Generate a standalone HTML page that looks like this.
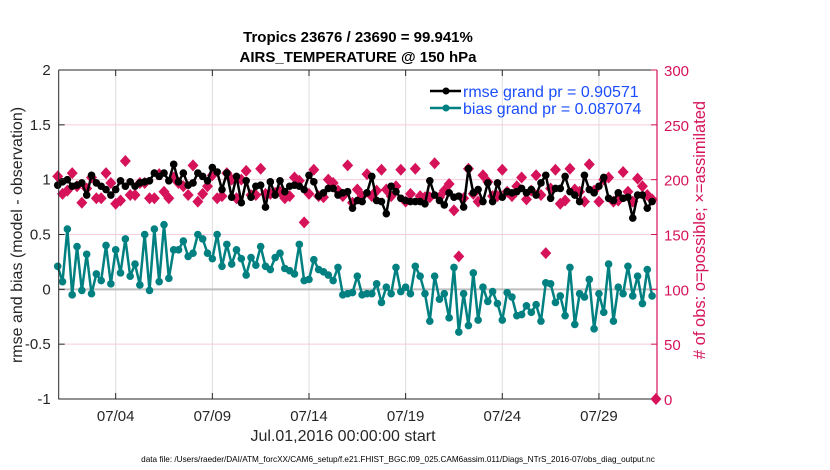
<!DOCTYPE html>
<html><head><meta charset="utf-8"><style>
body{margin:0;background:#fff;}
svg{display:block;font-family:"Liberation Sans",Arial,sans-serif;}
</style></head><body>
<svg id="chart" width="830" height="470" viewBox="0 0 830 470">
<rect x="0" y="0" width="830" height="470" fill="#fff"/>
<g id="grid"></g>
<g id="series"></g>
<g id="axes"></g>
</svg>
<script>
const rmseVals=[0.95,0.98,1.00,0.94,0.95,0.97,0.86,1.04,0.97,0.94,0.91,0.86,0.91,0.99,0.94,0.98,0.94,0.97,0.98,0.99,1.06,1.03,1.06,0.99,1.14,0.98,1.06,0.95,0.97,1.06,1.03,0.99,1.11,1.07,0.91,1.06,0.84,1.03,0.79,0.99,0.84,0.94,0.95,
0.75,0.98,0.86,0.99,0.89,0.94,0.95,0.94,0.91,1.04,0.98,0.85,0.88,0.92,0.92,0.86,0.88,0.89,0.74,0.81,0.80,0.88,1.03,0.81,0.80,0.69,0.94,0.89,0.83,0.81,0.80,0.80,0.80,0.78,0.99,0.86,0.81,0.77,0.88,0.84,0.85,
0.75,1.10,0.88,0.91,0.80,0.97,0.80,0.97,0.84,0.89,0.88,0.89,0.92,0.88,0.91,0.86,0.97,1.04,0.83,0.92,0.92,1.03,0.89,0.86,0.80,1.04,0.91,0.88,0.94,1.02,0.83,0.81,0.88,0.83,0.84,0.65,0.86,0.86,0.74,0.80];
const biasVals=[0.21,0.07,0.55,-0.05,0.39,-0.01,0.32,-0.04,0.14,0.08,0.40,0.05,0.36,0.15,0.46,0.12,0.23,0.04,0.50,-0.01,0.55,0.07,0.59,0.10,0.36,0.36,0.44,0.30,0.33,0.50,0.46,0.33,0.28,0.50,0.21,0.41,0.23,0.36,0.28,0.13,0.29,0.22,0.39,
0.21,0.18,0.29,0.33,0.19,0.17,0.14,0.41,0.08,0.09,0.27,0.18,0.16,0.13,0.08,0.20,-0.05,-0.04,-0.03,0.12,-0.05,-0.04,-0.04,0.05,-0.12,0.02,-0.04,0.20,-0.02,0.02,-0.04,0.21,0.12,-0.04,-0.29,0.12,-0.09,-0.04,-0.26,0.20,-0.39,
-0.04,-0.33,0.15,-0.28,0.02,-0.11,-0.02,-0.13,-0.28,-0.03,-0.07,-0.24,-0.23,-0.15,-0.21,-0.14,-0.29,0.06,0.05,-0.12,-0.06,-0.24,0.20,-0.32,-0.04,-0.07,0.09,-0.36,-0.04,-0.21,0.23,-0.29,0.02,-0.04,0.21,-0.06,0.12,-0.13,0.18,-0.06];
const obsVals=[203,187,190,206,194,179,192,202,183,183,206,197,178,181,217,186,186,197,197,183,183,205,189,183,202,197,194,186,213,180,187,194,204,183,185,206,200,183,200,208,186,186,210,
187,187,188,189,183,185,202,199,161,187,209,185,184,200,197,190,185,213,179,191,185,205,185,190,209,191,185,194,209,180,187,210,185,184,184,215,184,190,196,172,130,
183,210,187,180,204,198,185,185,209,189,185,194,202,182,190,204,186,133,192,209,178,181,210,191,189,180,214,190,180,200,202,180,181,207,189,180,201,194,186,182,0];
const leftTicks=[2,1.5,1,0.5,0,-0.5,-1];
const rightTicks=[300,250,200,150,100,50,0];
const dateTicks=[3,8,13,18,23,28];
const dateLabels=["07/04","07/09","07/14","07/19","07/24","07/29"];
const stepDays=0.25;

const L=58.7,R=657,T=70,B=399;
const xS=t=>57.7+19.33*t;
const yL=v=>B-(v+1)/3*(B-T);
const yR=n=>B-n/300*(B-T);
const NS="http://www.w3.org/2000/svg";
function mk(tag,attrs,parent,text){const e=document.createElementNS(NS,tag);for(const k in attrs)e.setAttribute(k,attrs[k]);if(text!==undefined)e.textContent=text;parent.appendChild(e);return e;}
const grid=document.getElementById('grid'),ser=document.getElementById('series'),ax=document.getElementById('axes');

dateTicks.forEach((d,i)=>{const g=mk('line',{x1:xS(d),x2:xS(d),y1:T,y2:B,stroke:'#dcdcdc','stroke-width':1},grid);

});
rightTicks.forEach(n=>{const g=mk('line',{x1:L,x2:R,y1:yR(n),y2:yR(n),stroke:'#f6cbdc','stroke-width':1},grid);

});
const z=mk('line',{x1:L,x2:R,y1:yL(0),y2:yL(0),stroke:'#bdbdbd','stroke-width':2},grid);



obsVals.forEach((n,i)=>{const t=(i===obsVals.length-1)?30.95:i*stepDays;const x=xS(t),y=yR(n);
const d=mk('path',{d:`M${x} ${y-6}L${x+5.5} ${y}L${x} ${y+6}L${x-5.5} ${y}Z`,fill:'#d6135a'},ser);

});

function line(vals,color,name){
 const pts=vals.map((v,i)=>[xS(i*stepDays),yL(v)]);
 const p=mk('polyline',{points:pts.map(p=>p.join(',')).join(' '),fill:'none',stroke:color,'stroke-width':2.5,'stroke-linejoin':'round'},ser);
 
 
 pts.forEach(q=>{const c=mk('circle',{cx:q[0],cy:q[1],r:3.8,fill:color},ser);
 
 });
}
line(biasVals,'#008080','bias');
line(rmseVals,'#000000','rmse');

const fr=mk('path',{d:`M${L} ${T}H${R}M${L} ${T}V${B}H${R}`,fill:'none',stroke:'#262626','stroke-width':1},ax);


const ra=mk('line',{x1:R,x2:R,y1:T,y2:B,stroke:'#d6135a','stroke-width':1.2},ax);



leftTicks.forEach(v=>{mk('line',{x1:L,x2:L+6,y1:yL(v),y2:yL(v),stroke:'#262626'},ax);
const t=mk('text',{x:L-8,y:yL(v)+5,'text-anchor':'end','font-size':15,fill:'#262626'},ax,String(v));

});
rightTicks.forEach(n=>{mk('line',{x1:R-6,x2:R,y1:yR(n),y2:yR(n),stroke:'#d6135a'},ax);
const t=mk('text',{x:R+7,y:yR(n)+6,'font-size':15,fill:'#d6135a'},ax,String(n));

});
dateTicks.forEach((d,i)=>{mk('line',{x1:xS(d),x2:xS(d),y1:B,y2:B-6,stroke:'#262626'},ax);mk('line',{x1:xS(d),x2:xS(d),y1:T,y2:T+6,stroke:'#262626'},ax);
const t=mk('text',{x:xS(d),y:B+22,'text-anchor':'middle','font-size':15,fill:'#262626'},ax,dateLabels[i]);

});
</script>
<svg width="830" height="470" style="position:absolute;left:0;top:0" font-family="Liberation Sans, Arial, sans-serif">
<text x="358" y="42" text-anchor="middle" font-size="15" font-weight="bold" fill="#000">Tropics 23676 / 23690 = 99.941%</text>
<text x="358" y="62" text-anchor="middle" font-size="15" font-weight="bold" fill="#000">AIRS_TEMPERATURE @ 150 hPa</text>
<text x="343" y="441" text-anchor="middle" font-size="16" fill="#262626">Jul.01,2016 00:00:00 start</text>
<text transform="translate(22,235) rotate(-90)" text-anchor="middle" font-size="16" fill="#262626">rmse and bias (model - observation)</text>
<text transform="translate(705,230) rotate(-90)" text-anchor="middle" font-size="16.5" fill="#d6135a"># of obs: o=possible; ×=assimilated</text>
<text x="398" y="462" text-anchor="middle" font-size="8.2" fill="#000">data file: /Users/raeder/DAI/ATM_forcXX/CAM6_setup/f.e21.FHIST_BGC.f09_025.CAM6assim.011/Diags_NTrS_2016-07/obs_diag_output.nc</text>
<g>
<line x1="430" y1="91" x2="461" y2="91" stroke="#000" stroke-width="2.5"/><circle cx="446" cy="91" r="3.5" fill="#000"/>
<text x="463" y="97" font-size="16" fill="#1a4dff">rmse grand pr = 0.90571</text>
<line x1="430" y1="108" x2="461" y2="108" stroke="#008080" stroke-width="2.5"/><circle cx="446" cy="108" r="3.5" fill="#008080"/>
<text x="463" y="114" font-size="16" fill="#1a4dff">bias grand pr = 0.087074</text>
</g>
</svg>
</body></html>
